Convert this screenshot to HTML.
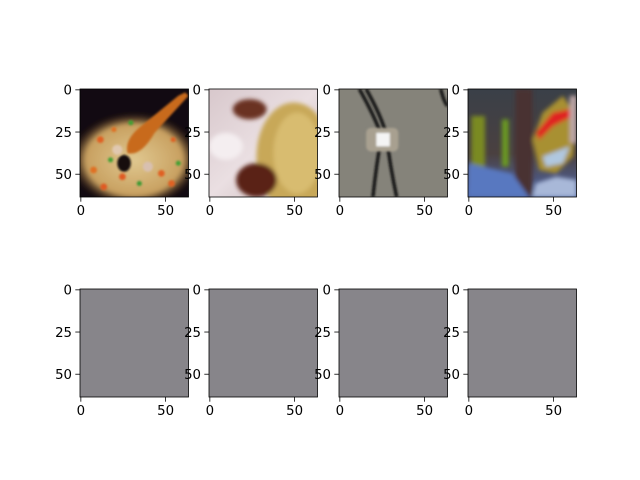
<!DOCTYPE html>
<html><head><meta charset="utf-8"><style>
html,body{margin:0;padding:0;background:#fff;}
svg{display:block;font-family:"DejaVu Sans","Liberation Sans",sans-serif;}
</style></head><body>
<svg id="fig" width="640" height="480" viewBox="0 0 640 480" xmlns="http://www.w3.org/2000/svg">
<defs>
<filter id="blur1"><feGaussianBlur stdDeviation="1.2"/></filter>
<filter id="blur2"><feGaussianBlur stdDeviation="0.6"/></filter>
<radialGradient id="rice" cx="0.5" cy="0.5" r="0.5"><stop offset="0" stop-color="#e0c890"/><stop offset="0.75" stop-color="#c8a060"/><stop offset="1" stop-color="#503010" stop-opacity="0"/></radialGradient>
<linearGradient id="bg2" x1="0" y1="0" x2="1" y2="1"><stop offset="0" stop-color="#d8c8cc"/><stop offset="0.5" stop-color="#eadfe2"/><stop offset="1" stop-color="#c8b4b4"/></linearGradient>
<linearGradient id="bg4" x1="0" y1="0" x2="0" y2="1"><stop offset="0" stop-color="#3a4048"/><stop offset="0.6" stop-color="#4a4040"/><stop offset="1" stop-color="#5068a8"/></linearGradient>
</defs>
<g id="images"></g>
<g id="axes"></g>
</svg>
<script>
const NS="http://www.w3.org/2000/svg";
const imgSize=64;
const xTickValues=[0,50];
const yTickValues=[0,25,50];
const xTickLabels=["0","50"];
const yTickLabels=["0","25","50"];
const panelNames=["image-fried-rice","image-spaghetti","image-bolo-tie","image-mask","blank-image-1","blank-image-2","blank-image-3","blank-image-4"];
const lefts=[80,209,339,468];
const tops=[89,289];
const W=108.5,H=108;
const s=W/imgSize;
function el(t,a,p){const e=document.createElementNS(NS,t);for(const k in a)e.setAttribute(k,a[k]);if(p)p.appendChild(e);return e;}

const contents=[
`<rect width="64" height="64" fill="#120a12"/>
<ellipse cx="32" cy="42" rx="38" ry="28" fill="url(#rice)" filter="url(#blur1)"/>
<g filter="url(#blur2)">
<circle cx="12" cy="30" r="2" fill="#e06020"/><circle cx="18" cy="42" r="1.5" fill="#40a030"/><circle cx="25" cy="52" r="2" fill="#e05a20"/>
<circle cx="8" cy="48" r="2" fill="#e07020"/><circle cx="35" cy="56" r="1.5" fill="#3a9a30"/><circle cx="48" cy="50" r="2" fill="#e06020"/>
<circle cx="55" cy="30" r="1.5" fill="#e06020"/><circle cx="45" cy="22" r="1.5" fill="#40a030"/><circle cx="20" cy="24" r="1.5" fill="#e07020"/>
<circle cx="58" cy="44" r="1.5" fill="#40a030"/><circle cx="14" cy="58" r="2" fill="#e05a20"/><circle cx="30" cy="20" r="1.5" fill="#40a030"/>
<circle cx="40" cy="46" r="3" fill="#d8c0b0"/><circle cx="22" cy="36" r="3" fill="#e0c8b0"/><circle cx="54" cy="56" r="2" fill="#e06020"/>
<ellipse cx="26" cy="44" rx="4" ry="5" fill="#181010"/>
<path d="M62 2 L64 4 L44 26 Q36 40 28 38 Q26 30 36 22 L58 4 Z" fill="#c86a1e"/>
</g>`,
`<rect width="64" height="64" fill="url(#bg2)"/>
<g filter="url(#blur1)">
<ellipse cx="50" cy="40" rx="22" ry="32" fill="#c8a858"/>
<ellipse cx="52" cy="38" rx="14" ry="24" fill="#d8bc70"/>
<ellipse cx="24" cy="12" rx="10" ry="6" fill="#6a3020"/>
<ellipse cx="28" cy="54" rx="12" ry="10" fill="#5a2418"/>
<ellipse cx="10" cy="34" rx="10" ry="8" fill="#f4eef0"/>
</g>`,
`<rect width="64" height="64" fill="#85837a"/>
<g filter="url(#blur2)" fill="none" stroke="#151515" stroke-width="2">
<path d="M12 0 Q22 18 25 28 Q22 45 20 64"/><path d="M16 0 Q26 18 28 28 Q30 45 34 64"/>
<path d="M60 0 Q62 8 64 10"/>
</g>
<g filter="url(#blur2)">
<rect x="16" y="23" width="19" height="14" rx="3" fill="#a8a090"/>
<rect x="22" y="26" width="8" height="8" fill="#f4f4f4"/>
</g>`,
`<rect width="64" height="64" fill="url(#bg4)"/>
<g filter="url(#blur1)">
<rect x="28" y="0" width="10" height="64" fill="#4a3032"/>
<rect x="2" y="16" width="8" height="34" fill="#7a8a20"/>
<rect x="20" y="18" width="4" height="28" fill="#6a9a20"/>
<path d="M0 44 L26 50 L36 64 L0 64 Z" fill="#5878c0"/>
<path d="M44 14 L56 4 L64 16 L62 40 L52 50 L42 48 L38 30 Z" fill="#a89030"/>
<path d="M40 26 L50 14 L60 12 L62 16 L50 22 L42 30 Z" fill="#e02020"/>
<path d="M44 40 L60 34 L56 44 L46 46 Z" fill="#b0c8e0"/>
<path d="M40 56 L52 52 L64 54 L64 64 L38 64 Z" fill="#a8b8d8"/>
<rect x="60" y="4" width="4" height="28" fill="#c0a8a8"/>
</g>`
];

const ig=document.getElementById('images');
const ax=document.getElementById('axes');
for(let r=0;r<2;r++)for(let c=0;c<4;c++){
  const i=r*4+c, L=lefts[c], T=tops[r];
  const cp=el('clipPath',{id:'cp'+i},document.querySelector('defs'));
  el('rect',{x:L,y:T,width:W,height:H},cp);
  const g=el('g',{'clip-path':'url(#cp'+i+')'},ig);
  
  
  if(r===0){
    const inner=el('g',{transform:`translate(${L},${T}) scale(${s},${H/imgSize})`},g);
    inner.innerHTML=contents[c];
  } else {
    el('rect',{x:L,y:T,width:W,height:H,fill:'#87858a'},g);
  }
  const frame=el('rect',{x:L,y:T,width:W,height:H,fill:'none',stroke:'#000','stroke-width':0.8},ax);
  
  
  xTickValues.forEach((v,k)=>{
    const x=L+(v+0.5)*s;
    el('line',{x1:x,x2:x,y1:T+H,y2:T+H+4.7,stroke:'#000','stroke-width':0.8},ax);
    const t=el('text',{x:x,y:T+H+18,'font-size':13.3,'text-anchor':'middle',fill:'#000'},ax);
    t.textContent=xTickLabels[k];
    
    
  });
  yTickValues.forEach((v,k)=>{
    const y=T+(v+0.5)*(H/imgSize);
    el('line',{x1:L-4.7,x2:L,y1:y,y2:y,stroke:'#000','stroke-width':0.8},ax);
    const t=el('text',{x:L-8,y:y+4.8,'font-size':13.3,'text-anchor':'end',fill:'#000'},ax);
    t.textContent=yTickLabels[k];
    
    
  });
}
</script>
</body></html>
